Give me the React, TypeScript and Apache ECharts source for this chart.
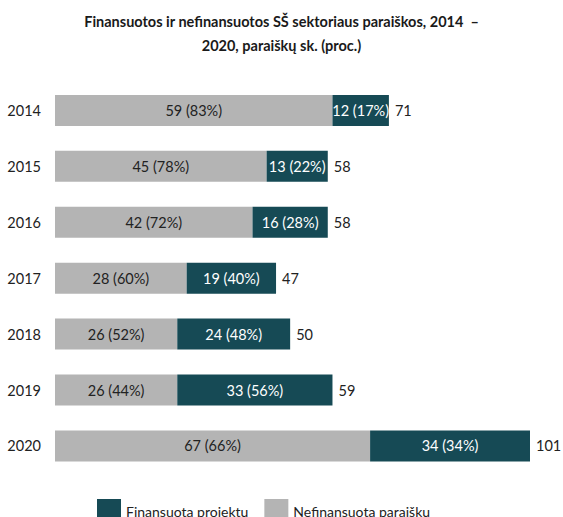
import React, { useEffect, useRef } from "react";
import * as echarts from "echarts";

const years = ["2014", "2015", "2016", "2017", "2018", "2019", "2020"];
const funded = [12, 13, 16, 19, 24, 33, 34];
const fundedPct = [17, 22, 28, 40, 48, 56, 34];
const unfunded = [59, 45, 42, 28, 26, 26, 67];
const unfundedPct = [83, 78, 72, 60, 52, 44, 66];
const totals = [71, 58, 58, 47, 50, 59, 101];

const FONT = "Lato";

export default function App() {
  const ref = useRef<HTMLDivElement>(null);
  useEffect(() => {
    document.body.style.margin = "0";
    const chart = echarts.init(ref.current!, undefined, { renderer: "svg" });
    chart.setOption({
      animation: false,
      title: {
        text: "Finansuotos ir nefinansuotos SŠ sektoriaus paraiškos, 2014  –\n2020, paraiškų sk. (proc.)",
        left: "center",
        top: 9,
        padding: 0,
        textStyle: { fontFamily: FONT, fontSize: 14.5, fontWeight: "bold", color: "#1a1a1a", lineHeight: 24 },
      },
      legend: {
        data: ["Finansuota projektų", "Nefinansuota paraiškų"],
        left: 97,
        top: 499,
        padding: 0,
        itemWidth: 24,
        itemHeight: 24,
        itemGap: 16,
        icon: "rect",
        textStyle: { fontFamily: FONT, fontSize: 14, color: "#222" },
      },
      grid: { left: 55, width: 475, top: 82.5, height: 391.4, containLabel: false },
      xAxis: { type: "value", min: 0, max: 101, show: false },
      yAxis: {
        type: "category",
        data: years,
        inverse: true,
        axisLine: { show: false },
        axisTick: { show: false },
        axisLabel: { fontFamily: FONT, fontSize: 14.5, color: "#222", margin: 14 },
      },
      series: [
        {
          name: "Nefinansuota paraiškų",
          type: "bar",
          stack: "a",
          barWidth: 31,
          data: unfunded,
          itemStyle: { color: "#b4b4b4" },
          label: {
            show: true,
            position: "inside",
            fontFamily: FONT,
            fontSize: 14.5,
            color: "#222",
            formatter: (p: any) => `${unfunded[p.dataIndex]} (${unfundedPct[p.dataIndex]}%)`,
          },
        },
        {
          name: "Finansuota projektų",
          type: "bar",
          stack: "a",
          barWidth: 31,
          data: funded,
          itemStyle: { color: "#164a55" },
          label: {
            show: true,
            position: "inside",
            fontFamily: FONT,
            fontSize: 14.5,
            color: "#ffffff",
            formatter: (p: any) => `${funded[p.dataIndex]} (${fundedPct[p.dataIndex]}%)`,
          },
        },
        {
          name: "total",
          type: "bar",
          stack: "a",
          barWidth: 31,
          silent: true,
          data: totals.map(() => 0),
          itemStyle: { color: "transparent" },
          label: {
            show: true,
            position: "right",
            distance: 6,
            fontFamily: FONT,
            fontSize: 14.5,
            color: "#222",
            formatter: (p: any) => `${totals[p.dataIndex]}`,
          },
        },
      ],
    });
    return () => chart.dispose();
  }, []);
  return <div ref={ref} style={{ width: 563, height: 517 }} />;
}
